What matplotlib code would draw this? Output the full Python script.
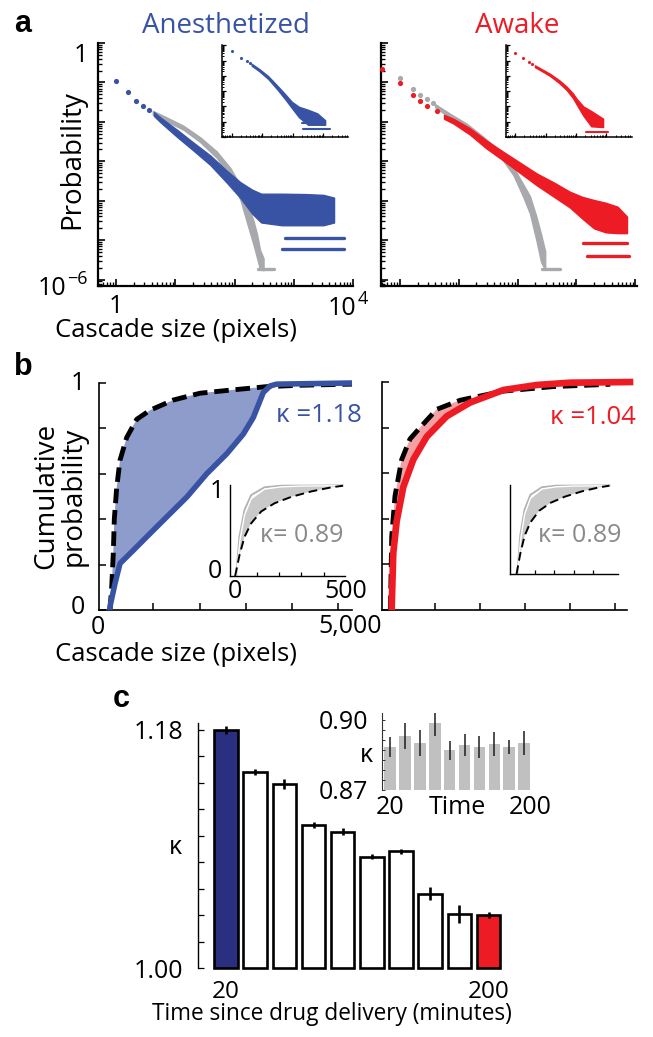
import numpy as np
import matplotlib
matplotlib.use("Agg")
import matplotlib.pyplot as plt
from matplotlib.ticker import LogLocator, NullFormatter, FixedLocator

plt.rcParams['font.family'] = ['Open Sans', 'DejaVu Sans']

# ---------------------------------------------------------------- data
# Panel a: cascade-size distributions, all values as log10(size), log10(probability)
ANES_PTS_X = [0.0, 0.20, 0.34, 0.455, 0.55]
ANES_PTS_Y = [-0.97, -1.25, -1.46, -1.59, -1.69]
ANES_BAND_X = [0.64, 0.75, 1.03, 1.31, 1.59, 1.87, 2.10, 2.30, 2.45, 2.80, 3.20, 3.50, 3.68]
ANES_BAND_HI = [-1.75, -1.89, -2.20, -2.53, -2.85, -3.24, -3.53, -3.72, -3.82, -3.82, -3.83, -3.85, -3.92]
ANES_BAND_LO = [-1.85, -2.01, -2.38, -2.73, -3.09, -3.54, -3.93, -4.33, -4.55, -4.62, -4.62, -4.62, -4.55]
ANES_ROW_Y = [-4.95, -5.23]
ANES_ROW_X0 = [2.85, 2.80]
ANES_ROW_X1 = [3.85, 3.85]

AWAKE_PTS_X = [-0.31, 0.0, 0.216, 0.34, 0.465, 0.635]
AWAKE_PTS_Y = [-0.66, -1.01, -1.31, -1.48, -1.59, -1.73]
AWAKE_BAND_X = [0.75, 0.91, 1.19, 1.47, 1.76, 2.04, 2.33, 2.61, 2.89, 3.10, 3.30, 3.50, 3.70, 3.86]
AWAKE_BAND_HI = [-1.82, -1.92, -2.16, -2.47, -2.76, -3.03, -3.31, -3.53, -3.77, -3.90, -3.98, -4.05, -4.15, -4.40]
AWAKE_BAND_LO = [-1.92, -2.04, -2.32, -2.67, -2.98, -3.29, -3.61, -3.89, -4.17, -4.45, -4.70, -4.80, -4.82, -4.82]
AWAKE_ROW_Y = [-5.06, -5.40]
AWAKE_ROW_X0 = [3.12, 3.18]
AWAKE_ROW_X1 = [3.86, 3.89]

# model distribution as it shows behind each data set
MODEL_A_BAND_X = [0.62, 0.86, 1.14, 1.42, 1.70, 1.93, 2.10, 2.21, 2.32, 2.38, 2.43, 2.49]
MODEL_A_BAND_HI = [-1.72, -1.89, -2.10, -2.39, -2.75, -3.17, -3.62, -4.05, -4.51, -4.85, -5.24, -5.46]
MODEL_A_BAND_LO = [-1.82, -1.99, -2.20, -2.51, -2.91, -3.41, -3.98, -4.55, -5.11, -5.45, -5.74, -5.76]
MODEL_A_ROW_Y = [-5.74]
MODEL_A_ROW_X0 = [2.40]
MODEL_A_ROW_X1 = [2.66]

MODEL_W_PTS_X = [0.0, 0.216, 0.34, 0.465, 0.57]
MODEL_W_PTS_Y = [-0.89, -1.16, -1.32, -1.43, -1.52]
MODEL_W_BAND_X = [0.60, 0.86, 1.14, 1.42, 1.70, 1.93, 2.10, 2.21, 2.32, 2.40, 2.47]
MODEL_W_BAND_HI = [-1.55, -1.80, -2.05, -2.38, -2.74, -3.15, -3.59, -3.88, -4.40, -4.85, -5.28]
MODEL_W_BAND_LO = [-1.63, -1.90, -2.15, -2.48, -2.86, -3.35, -3.91, -4.32, -5.00, -5.55, -5.75]
MODEL_W_ROW_Y = [-5.74]
MODEL_W_ROW_X0 = [2.41]
MODEL_W_ROW_X1 = [2.72]

# insets of panel a (log10 values)
ANES_IN_PTS_X = [0.0, 0.30, 0.49, 0.60]
ANES_IN_PTS_Y = [-0.37, -0.81, -1.03, -1.18]
ANES_IN_BAND_X = [0.65, 0.90, 1.20, 1.50, 1.75, 1.97, 2.20, 2.50, 2.80, 3.06]
ANES_IN_BAND_HI = [-1.21, -1.55, -2.03, -2.66, -3.20, -3.70, -4.02, -4.22, -4.45, -4.90]
ANES_IN_BAND_LO = [-1.33, -1.69, -2.21, -2.90, -3.52, -4.10, -4.70, -5.20, -5.20, -5.20]
ANES_IN_ROW_Y = [-5.10, -5.49]
ANES_IN_ROW_X0 = [2.30, 2.35]
ANES_IN_ROW_X1 = [3.06, 3.22]

AWAKE_IN_PTS_X = [0.0, 0.27, 0.44, 0.55]
AWAKE_IN_PTS_Y = [-0.52, -0.85, -1.07, -1.24]
AWAKE_IN_BAND_X = [0.65, 0.90, 1.15, 1.45, 1.69, 1.90, 2.02, 2.24, 2.50, 2.89]
AWAKE_IN_BAND_HI = [-1.31, -1.59, -1.87, -2.29, -2.70, -3.15, -3.50, -4.00, -4.30, -4.80]
AWAKE_IN_BAND_LO = [-1.43, -1.71, -2.01, -2.47, -2.92, -3.45, -3.86, -4.60, -5.30, -5.35]
AWAKE_IN_ROW_Y = [-5.65]
AWAKE_IN_ROW_X0 = [2.33]
AWAKE_IN_ROW_X1 = [3.06]

# Panel b: cumulative distributions (cascade size in pixels, probability)
CDF_ANES_X = [60, 65, 173, 281, 569, 857, 1291, 1723, 2155, 2588, 2947, 3163, 3379, 3524, 3669, 5297]
CDF_ANES_Y = [0.0, 0.015, 0.117, 0.205, 0.263, 0.322, 0.41, 0.497, 0.60, 0.688, 0.775, 0.848, 0.958, 0.987, 0.995, 1.0]
CDF_REF_A_X = [65, 102, 136, 158, 210, 281, 426, 642, 930, 1433, 2011, 2731, 3452, 4172, 5297]
CDF_REF_A_Y = [0.0, 0.103, 0.25, 0.40, 0.54, 0.66, 0.76, 0.84, 0.88, 0.925, 0.955, 0.97, 0.984, 0.99, 0.995]
CDF_AWAKE_X = [38, 38, 73, 149, 296, 518, 815, 1260, 1778, 2518, 3260, 4000, 5400]
CDF_AWAKE_Y = [0.0, 0.015, 0.25, 0.39, 0.54, 0.66, 0.76, 0.85, 0.91, 0.965, 0.987, 0.997, 1.0]
CDF_REF_W_X = [10, 38, 111, 260, 444, 667, 1037, 1556, 2518, 3630, 4889]
CDF_REF_W_Y = [0.0, 0.32, 0.50, 0.66, 0.75, 0.80, 0.88, 0.92, 0.96, 0.98, 0.99]
KAPPA_ANES = 1.18
KAPPA_AWAKE = 1.04

# insets of panel b (shuffled data)
SHUF_UP_X = [8, 22, 45, 75, 135, 210, 486]
SHUF_UP_Y = [0.0, 0.43, 0.725, 0.89, 0.975, 0.992, 0.995]
SHUF_LO_X = [8, 25, 45, 75, 135, 210, 300, 486]
SHUF_LO_Y = [0.0, 0.40, 0.67, 0.85, 0.955, 0.98, 0.988, 0.992]
SHUF_REF_X = [3, 22.5, 45, 75, 120, 180, 255, 345, 435, 486]
SHUF_REF_Y = [0.0, 0.23, 0.43, 0.58, 0.71, 0.80, 0.87, 0.93, 0.975, 0.992]
KAPPA_SHUF = 0.89

# Panel c: kappa vs time since drug delivery
TIME_LABELS = ['20', '200']
KAPPA = [1.180, 1.148, 1.139, 1.108, 1.103, 1.084, 1.088, 1.056, 1.041, 1.040]
KAPPA_ERR = [0.003, 0.0025, 0.0038, 0.0025, 0.0025, 0.002, 0.002, 0.005, 0.0068, 0.0025]
KAPPA_SHUF_T = [0.8886, 0.8931, 0.8903, 0.8986, 0.8871, 0.8893, 0.8886, 0.8897, 0.8886, 0.8903]
KAPPA_SHUF_ERR = [0.0043, 0.0055, 0.0056, 0.0054, 0.0041, 0.0047, 0.0047, 0.0051, 0.0030, 0.0051]

# ---------------------------------------------------------------- style
BLUE = '#3953a4'
RED = '#ed1c24'
GRAY = '#a7a9ac'
NAVY = '#2b2f7f'
LBLUE = '#8e9ccb'
PINK = '#f4a0a3'
SHADE = '#c9c9c9'
TICK_FS = 18

W, H = 653, 1037
fig = plt.figure(figsize=(W / 100, H / 100), dpi=100)


def px_axes(x0, y0, x1, y1):
    return fig.add_axes([x0 / W, 1 - y1 / H, (x1 - x0) / W, (y1 - y0) / H])


def ftext(x, y, s, **kw):
    return fig.text(x / W, 1 - y / H, s, **kw)


def power_label(x_right, y_base, exponent, fs):
    """'10' with a raised exponent, right edge of the exponent at x_right."""
    e = ftext(x_right, y_base - 11, exponent, fontsize=fs * 0.72, ha='right', va='baseline')
    fig.canvas.draw()
    bb = e.get_window_extent()
    ftext(bb.x0 - 1, y_base, '10', fontsize=fs, ha='right', va='baseline')


def open_frame(ax, lw):
    for side in ('top', 'right'):
        ax.spines[side].set_visible(False)
    for side in ('left', 'bottom'):
        ax.spines[side].set_linewidth(lw)


def log_ticks(ax, major_len, minor_len, width):
    for axis in (ax.xaxis, ax.yaxis):
        axis.set_major_locator(LogLocator(base=10, numticks=20))
        axis.set_minor_locator(LogLocator(base=10, subs=np.arange(2, 10), numticks=20))
        axis.set_minor_formatter(NullFormatter())
    ax.tick_params(which='major', direction='in', length=major_len, width=width)
    ax.tick_params(which='minor', direction='in', length=minor_len, width=width * 0.8)
    ax.tick_params(which='both', labelbottom=False, labelleft=False)


def draw_dist(ax, bx, blo, bhi, ry, rx0, rx1, color, s, row_lw, z, px=None, py=None):
    if px is not None:
        ax.scatter(10 ** np.asarray(px), 10 ** np.asarray(py), s=s, color=color,
                   lw=0, zorder=z, clip_on=False)
    ax.fill_between(10 ** np.asarray(bx), 10 ** np.asarray(blo), 10 ** np.asarray(bhi),
                    facecolor=color, edgecolor=color, lw=1.0, zorder=z)
    for y, a, b in zip(ry, rx0, rx1):
        ax.plot([10 ** a, 10 ** b], [10 ** y, 10 ** y], color=color, lw=row_lw,
                solid_capstyle='round', zorder=z, clip_on=False)


# ---------------------------------------------------------------- panel a
axA1 = px_axes(97.7, 43, 353, 286)
axA2 = px_axes(381, 43, 637, 286)
for ax, xl in ((axA1, (10 ** -0.31, 1e4)), (axA2, (10 ** -0.32, 10 ** 4.03))):
    ax.set_xscale('log')
    ax.set_yscale('log')
    ax.set_xlim(*xl)
    ax.set_ylim(10 ** -6.16, 1)
    open_frame(ax, 1.6)
    log_ticks(ax, 5, 2.6, 1.2)
    ax.set_facecolor('none')

draw_dist(axA1, MODEL_A_BAND_X, MODEL_A_BAND_LO, MODEL_A_BAND_HI,
          MODEL_A_ROW_Y, MODEL_A_ROW_X0, MODEL_A_ROW_X1, GRAY, 14, 2.4, 2)
draw_dist(axA1, ANES_BAND_X, ANES_BAND_LO, ANES_BAND_HI,
          ANES_ROW_Y, ANES_ROW_X0, ANES_ROW_X1, BLUE, 14, 2.4, 3, ANES_PTS_X, ANES_PTS_Y)
draw_dist(axA2, MODEL_W_BAND_X, MODEL_W_BAND_LO, MODEL_W_BAND_HI,
          MODEL_W_ROW_Y, MODEL_W_ROW_X0, MODEL_W_ROW_X1, GRAY, 14, 2.4, 2, MODEL_W_PTS_X, MODEL_W_PTS_Y)
draw_dist(axA2, AWAKE_BAND_X, AWAKE_BAND_LO, AWAKE_BAND_HI,
          AWAKE_ROW_Y, AWAKE_ROW_X0, AWAKE_ROW_X1, RED, 14, 2.4, 3, AWAKE_PTS_X, AWAKE_PTS_Y)

axAi1 = px_axes(222.3, 45.3, 348, 137)
axAi2 = px_axes(506, 45.3, 631.7, 137)
for ax, xl in ((axAi1, (10 ** -0.31, 10 ** 3.81)), (axAi2, (10 ** -0.3, 10 ** 3.83))):
    ax.set_xscale('log')
    ax.set_yscale('log')
    ax.set_xlim(*xl)
    ax.set_ylim(1e-6, 1)
    open_frame(ax, 1.1)
    log_ticks(ax, 3.2, 1.5, 0.9)
    ax.set_facecolor('white')

draw_dist(axAi1, ANES_IN_BAND_X, ANES_IN_BAND_LO, ANES_IN_BAND_HI,
          ANES_IN_ROW_Y, ANES_IN_ROW_X0, ANES_IN_ROW_X1, BLUE, 5, 1.5, 3, ANES_IN_PTS_X, ANES_IN_PTS_Y)
draw_dist(axAi2, AWAKE_IN_BAND_X, AWAKE_IN_BAND_LO, AWAKE_IN_BAND_HI,
          AWAKE_IN_ROW_Y, AWAKE_IN_ROW_X0, AWAKE_IN_ROW_X1, RED, 5, 1.5, 3, AWAKE_IN_PTS_X, AWAKE_IN_PTS_Y)

ftext(14, 32, 'a', fontsize=22, fontweight='bold', family='Liberation Sans', va='baseline')
ftext(226, 33, 'Anesthetized', fontsize=20, color=BLUE, ha='center', va='baseline')
ftext(517, 33, 'Awake', fontsize=20, color=RED, ha='center', va='baseline')
ftext(72.5, 160, 'Probability', fontsize=20, rotation=90, ha='center', va='center')
ftext(176, 337, 'Cascade size (pixels)', fontsize=18.5, ha='center', va='baseline')
# axis numbers of the left distribution plot
ftext(88, 62, '1', fontsize=TICK_FS, ha='right', va='baseline')
power_label(88, 295, '\u22126', TICK_FS)
ftext(116, 313, '1', fontsize=TICK_FS, ha='center', va='baseline')
power_label(368, 315, '4', TICK_FS)

# ---------------------------------------------------------------- panel b
def cdf_axes(x0, y0, x1, y1, xlim):
    ax = px_axes(x0, y0, x1, y1)
    ax.set_xlim(*xlim)
    ax.set_ylim(0, 1)
    open_frame(ax, 1.2)
    ax.set_xticks([1000, 2000, 3000, 4000, 5000])
    ax.set_yticks([0, 0.2, 0.4, 0.6, 0.8, 1.0])
    ax.tick_params(direction='in', length=5, width=1.1, labelbottom=False, labelleft=False)
    ax.set_facecolor('none')
    return ax


def shade_between(ax, ux, uy, lx, ly, xmax, color):
    ux, uy, lx, ly = map(np.asarray, (ux, uy, lx, ly))
    mu, ml = ux <= xmax, lx <= xmax
    poly_x = np.concatenate([ux[mu], lx[ml][::-1]])
    poly_y = np.concatenate([uy[mu], ly[ml][::-1]])
    ax.fill(poly_x, poly_y, color=color, lw=0, zorder=1)


axB1 = cdf_axes(99, 383, 352, 610, (-173, 5297))
axB2 = cdf_axes(381.7, 382, 627, 610, (-184, 5260))

shade_between(axB1, CDF_REF_A_X, CDF_REF_A_Y, CDF_ANES_X, CDF_ANES_Y, 3460, LBLUE)
axB1.plot(CDF_REF_A_X, CDF_REF_A_Y, color='black', lw=3.5, dashes=(3.0, 1.4), zorder=2, clip_on=False)
axB1.plot(CDF_ANES_X, CDF_ANES_Y, color=BLUE, lw=4.0, zorder=3, clip_on=False,
          solid_capstyle='butt')

shade_between(axB2, CDF_REF_W_X, CDF_REF_W_Y, CDF_AWAKE_X, CDF_AWAKE_Y, 2000, PINK)
axB2.plot(CDF_REF_W_X, CDF_REF_W_Y, color='black', lw=3.5, dashes=(3.0, 1.4), zorder=2, clip_on=False)
axB2.plot(CDF_AWAKE_X, CDF_AWAKE_Y, color=RED, lw=4.8, zorder=3, clip_on=False,
          solid_capstyle='butt')

ftext(362, 415, f'κ ={KAPPA_ANES:.2f}', fontsize=18.5, color=BLUE, ha='right', va='center')
ftext(636, 417, f'κ ={KAPPA_AWAKE:.2f}', fontsize=18.5, color=RED, ha='right', va='center')


def shuffle_inset(x0, y0, x1, y1, xlim):
    ax = px_axes(x0, y0, x1, y1)
    ax.set_xlim(*xlim)
    ax.set_ylim(0, 1)
    open_frame(ax, 1.0)
    ax.set_xticks([100, 200, 300, 400])
    ax.set_yticks([])
    ax.tick_params(direction='in', length=3, width=0.9, labelbottom=False, labelleft=False)
    ax.set_facecolor('white')
    shade_between(ax, SHUF_LO_X, SHUF_LO_Y, SHUF_REF_X, SHUF_REF_Y, 500, SHADE)
    ax.plot(SHUF_UP_X, SHUF_UP_Y, color='#b3b3b3', lw=1.4, zorder=2, clip_on=False)
    ax.plot(SHUF_LO_X, SHUF_LO_Y, color='white', lw=1.0, zorder=2, clip_on=False)
    ax.plot(SHUF_REF_X, SHUF_REF_Y, color='black', lw=1.4, dashes=(4.5, 2.5), zorder=3, clip_on=False)
    return ax


axBi1 = shuffle_inset(230, 485, 345, 576, (-20, 495))
axBi2 = shuffle_inset(510, 485, 618, 574, (-31, 530))
ftext(302, 535, f'κ= {KAPPA_SHUF:.2f}', fontsize=18, color='#8a8a8a', ha='center', va='center')
ftext(580, 535, f'κ= {KAPPA_SHUF:.2f}', fontsize=18, color='#8a8a8a', ha='center', va='center')

ftext(14, 375, 'b', fontsize=22, fontweight='bold', family='Liberation Sans', va='baseline')
ftext(78, 384, '1', fontsize=TICK_FS, ha='center', va='center')
ftext(78, 608, '0', fontsize=TICK_FS, ha='center', va='center')
ftext(98, 627, '0', fontsize=TICK_FS, ha='center', va='center')
ftext(350, 627, '5,000', fontsize=TICK_FS, ha='center', va='center')
ftext(217, 491, '1', fontsize=TICK_FS, ha='center', va='center')
ftext(215, 571, '0', fontsize=TICK_FS, ha='center', va='center')
ftext(235, 592, '0', fontsize=TICK_FS, ha='center', va='center')
ftext(346, 592, '500', fontsize=TICK_FS, ha='center', va='center')
ftext(60, 496, 'Cumulative\nprobability', fontsize=20, rotation=90, ha='center', va='center',
      linespacing=0.95)
ftext(176, 661, 'Cascade size (pixels)', fontsize=18.5, ha='center', va='baseline')

# ---------------------------------------------------------------- panel c
idx = np.arange(len(KAPPA))
axC = px_axes(198, 723, 506, 968)
axC.set_xlim(-0.96, 9.6)
axC.set_ylim(1.0, 1.185)
for side in ('top', 'right', 'bottom'):
    axC.spines[side].set_visible(False)
axC.spines['left'].set_linewidth(1.0)
bar_colors = [NAVY] + ['white'] * (len(KAPPA) - 2) + [RED]
axC.bar(idx, np.asarray(KAPPA) - 1.0, bottom=1.0, width=0.81, color=bar_colors,
        edgecolor='black', lw=1.9, clip_on=False, zorder=2)
axC.errorbar(idx, KAPPA, yerr=KAPPA_ERR, fmt='none', ecolor='black', elinewidth=1.9,
             capsize=0, zorder=3)
axC.set_yticks([1.00, 1.18])
axC.set_yticklabels(['1.00', '1.18'])
axC.yaxis.set_minor_locator(FixedLocator(np.arange(1.02, 1.17, 0.02)))
axC.tick_params(axis='y', which='both', direction='in', width=0.9, labelsize=TICK_FS, pad=10.5,
                length=4.5)
axC.set_xticks([idx[0], idx[-1]])
axC.set_xticklabels(TIME_LABELS)
axC.tick_params(axis='x', length=0, labelsize=17.5, pad=8.5)
axC.set_facecolor('none')
ftext(175, 848, 'κ', fontsize=TICK_FS, ha='center', va='center')
ftext(332, 1020, 'Time since drug delivery (minutes)', fontsize=16.3, ha='center', va='baseline')
ftext(113, 707, 'c', fontsize=22, fontweight='bold', family='Liberation Sans', va='baseline')

axCi = px_axes(381.7, 713, 532, 790)
axCi.set_xlim(-0.56, 9.53)
axCi.set_ylim(0.87, 0.903)
for side in ('top', 'right', 'bottom'):
    axCi.spines[side].set_visible(False)
axCi.spines['left'].set_linewidth(0.8)
axCi.spines['left'].set_color('#333333')
axCi.bar(idx, np.asarray(KAPPA_SHUF_T) - 0.87, bottom=0.87, width=0.78, color='#c0c0c0', lw=0)
axCi.errorbar(idx, KAPPA_SHUF_T, yerr=KAPPA_SHUF_ERR, fmt='none', ecolor='#1e1e1e',
              elinewidth=1.1, capsize=0)
axCi.set_yticks([0.87, 0.90])
axCi.set_yticklabels(['0.87', '0.90'])
axCi.yaxis.set_minor_locator(FixedLocator(np.linspace(0.87, 0.90, 8)[1:-1]))
axCi.tick_params(axis='y', which='both', direction='in', length=2.5, width=0.7,
                 labelsize=TICK_FS, pad=9.5, color='#333333')
axCi.set_xticks([])
axCi.set_facecolor('none')
ftext(366, 756, 'κ', fontsize=TICK_FS, ha='center', va='center')
ftext(390, 807, '20', fontsize=TICK_FS, ha='center', va='center')
ftext(457, 807, 'Time', fontsize=TICK_FS, ha='center', va='center')
ftext(530, 807, '200', fontsize=TICK_FS, ha='center', va='center')

fig.savefig('out.png', dpi=100)
